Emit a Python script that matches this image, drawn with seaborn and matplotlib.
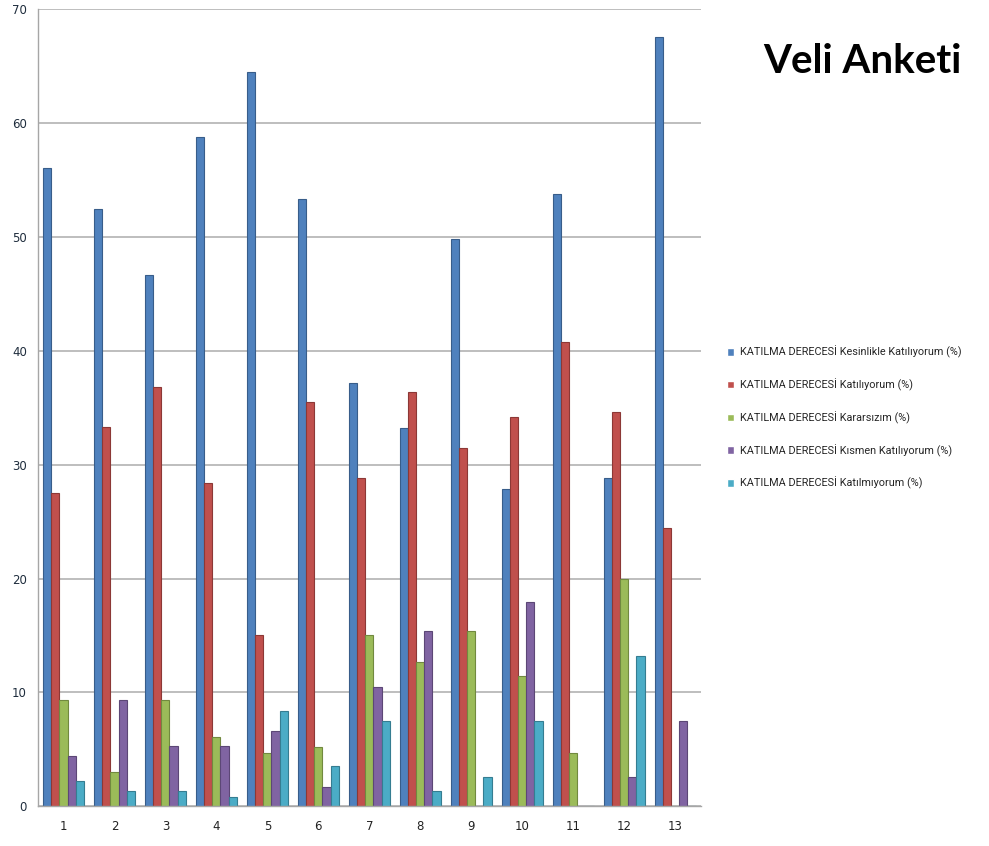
import numpy as np
import pandas as pd
import seaborn as sb
import matplotlib.pyplot as plt

# soru numaralari
questions = [str(i) for i in range(1, 14)]

series_names = [
    'KATILMA DERECESİ Kesinlikle Katılıyorum (%)',
    'KATILMA DERECESİ Katılıyorum (%)',
    'KATILMA DERECESİ Kararsızım (%)',
    'KATILMA DERECESİ Kısmen Katılıyorum (%)',
    'KATILMA DERECESİ Katılmıyorum (%)',
]

kesinlikle = [56.1, 52.5, 46.7, 58.8, 64.5, 53.3, 37.2, 33.2, 49.8, 27.9, 53.8, 28.8, 67.6]
katiliyorum = [27.5, 33.3, 36.8, 28.4, 15.0, 35.5, 28.8, 36.4, 31.5, 34.2, 40.8, 34.6, 24.4]
kararsizim = [9.3, 3.0, 9.3, 6.1, 4.7, 5.2, 15.0, 12.7, 15.4, 11.4, 4.7, 20.0, 0.0]
kismen = [4.4, 9.3, 5.3, 5.3, 6.6, 1.7, 10.5, 15.4, 0.0, 17.9, 0.0, 2.6, 7.5]
katilmiyorum = [2.2, 1.3, 1.3, 0.8, 8.4, 3.5, 7.5, 1.3, 2.6, 7.5, 0.0, 13.2, 0.0]

colors = ['#4F81BD', '#C0504D', '#9BBB59', '#8064A2', '#4BACC6']
edges = ['#385D8A', '#8C3836', '#71893F', '#5C4776', '#357D91']

df = pd.DataFrame({'soru': questions * 5,
                   'seri': np.repeat(series_names, len(questions)),
                   'deger': kesinlikle + katiliyorum + kararsizim + kismen + katilmiyorum})

sb.set_style('white')
plt.rcParams['font.family'] = ['DejaVu Sans']

fig = plt.figure(figsize=(9.89, 8.46), dpi=100)
ax = fig.add_axes([0.0384, 0.047, 0.67, 0.942])

sb.barplot(data=df, x='soru', y='deger', hue='seri', hue_order=series_names,
           palette=colors, width=0.8, ax=ax, legend=True, saturation=1)

# kenar renkleri (3B gorunumu biraz taklit etmek icin)
for cont, ec in zip(ax.containers, edges):
    for bar in cont:
        bar.set_edgecolor(ec)
        bar.set_linewidth(0.8)

ax.set_ylim(0, 70)
ax.set_xlim(-0.5, 12.5)
ax.set_yticks(range(0, 71, 10))
ax.yaxis.grid(True, color='#b3b3b3', linewidth=1.2)
ax.set_axisbelow(True)
ax.set_xlabel('')
ax.set_ylabel('')

for s in ['top', 'right']:
    ax.spines[s].set_visible(False)
for s in ['left', 'bottom']:
    ax.spines[s].set_color('#a6a6a6')
    ax.spines[s].set_linewidth(1.0)

ax.tick_params(axis='x', which='major', length=0, labelsize=8.5, pad=10, colors='#222222')
ax.set_xticks(np.arange(-0.5, 13, 1), minor=True)
ax.tick_params(axis='x', which='minor', length=5, color='#a6a6a6', direction='out')
ax.tick_params(axis='y', length=4, color='#a6a6a6', labelsize=8.5, labelcolor='#1f2d3d', pad=4)

handles, labels = ax.get_legend_handles_labels()
ax.get_legend().remove()
fig.legend(handles, labels, loc='upper left', bbox_to_anchor=(0.725, 0.603),
           frameon=False, handlelength=0.7, handleheight=0.7,
           handletextpad=0.5, labelspacing=1.88,
           prop={'family': ['Roboto', 'DejaVu Sans'], 'size': 7.8})

fig.text(0.872, 0.927, 'Veli Anketi', ha='center', va='center', fontsize=29,
         fontweight='bold', color='black', family=['Lato', 'DejaVu Sans'])

plt.savefig('out.png', dpi=100)
plt.close()
